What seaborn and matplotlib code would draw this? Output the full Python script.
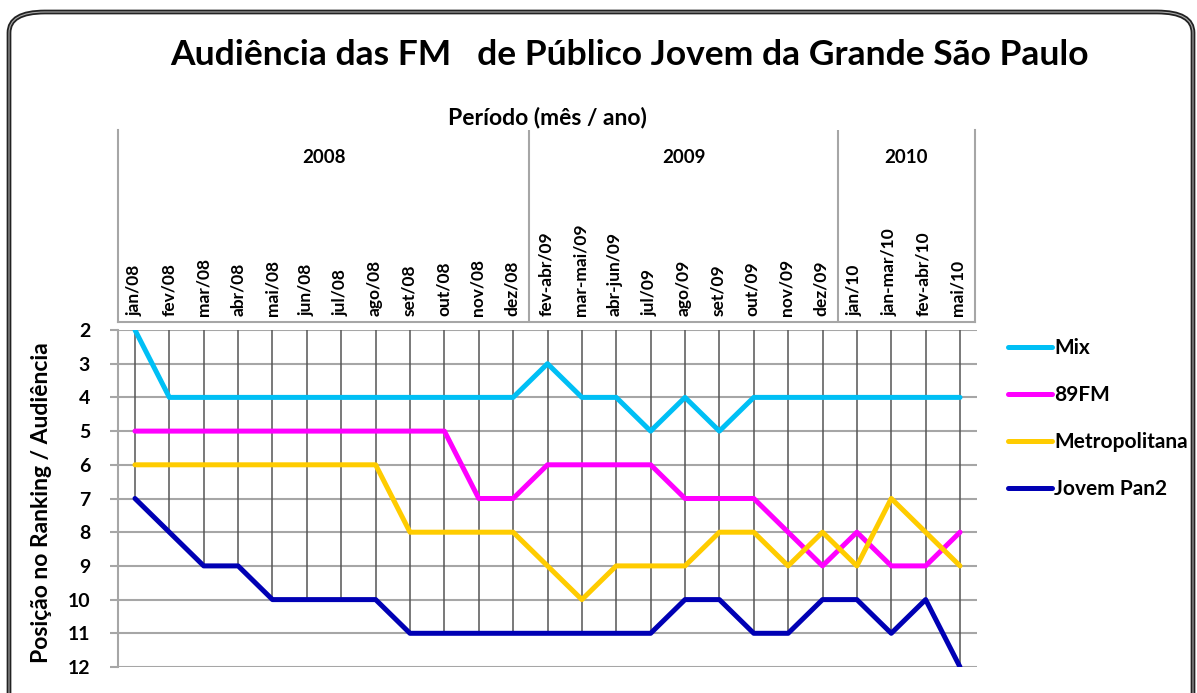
import pandas as pd
import seaborn as sns
import matplotlib.pyplot as plt
from matplotlib.patches import FancyBboxPatch

# Periods (category axis) and year groups
periods = ['jan/08', 'fev/08', 'mar/08', 'abr/08', 'mai/08', 'jun/08', 'jul/08',
           'ago/08', 'set/08', 'out/08', 'nov/08', 'dez/08',
           'fev-abr/09', 'mar-mai/09', 'abr-jun/09', 'jul/09', 'ago/09', 'set/09',
           'out/09', 'nov/09', 'dez/09',
           'jan/10', 'jan-mar/10', 'fev-abr/10', 'mai/10']
years = ['2008', '2009', '2010']
year_sizes = [12, 9, 4]

# Ranking positions per station
mix = [2, 4, 4, 4, 4, 4, 4, 4, 4, 4, 4, 4, 3, 4, 4, 5, 4, 5, 4, 4, 4, 4, 4, 4, 4]
fm89 = [5, 5, 5, 5, 5, 5, 5, 5, 5, 5, 7, 7, 6, 6, 6, 6, 7, 7, 7, 8, 9, 8, 9, 9, 8]
metropolitana = [6, 6, 6, 6, 6, 6, 6, 6, 8, 8, 8, 8, 9, 10, 9, 9, 9, 8, 8, 9, 8, 9, 7, 8, 9]
jovem_pan2 = [7, 8, 9, 9, 10, 10, 10, 10, 11, 11, 11, 11, 11, 11, 11, 11, 10, 10, 11, 11, 10, 10, 11, 10, 12]

stations = ['Mix', '89FM', 'Metropolitana', 'Jovem Pan2']
colors = ['#00bff5', '#ff00ff', '#ffcc00', '#0000b4']
series = [mix, fm89, metropolitana, jovem_pan2]

rows = []
for name, vals in zip(stations, series):
    for i, v in enumerate(vals):
        rows.append({'idx': i, 'Estação': name, 'Posição': v})
df = pd.DataFrame(rows)

sns.set_theme(style='white')
plt.rcParams['font.family'] = ['Lato', 'DejaVu Sans']
plt.rcParams['font.weight'] = 'bold'
plt.rcParams['text.color'] = 'black'

W, H = 1197, 693
fig = plt.figure(figsize=(W / 100, H / 100), dpi=100)

# rounded double border around the chart
outer = FancyBboxPatch((9 / W, -0.05), 1184 / W, 1 - 12 / H + 0.05,
                       boxstyle='round,pad=0,rounding_size=0.03',
                       transform=fig.transFigure, fill=False, ec='#222222', lw=3.4, zorder=0)
inner = FancyBboxPatch((9 / W, -0.05), 1184 / W, 1 - 12 / H + 0.05,
                       boxstyle='round,pad=0,rounding_size=0.03',
                       transform=fig.transFigure, fill=False, ec='#aaaaaa', lw=0.8, zorder=0)
fig.patches.extend([outer, inner])

x0, x1 = 117.8, 977.2
ax = fig.add_axes([x0 / W, 1 - 667 / H, (x1 - x0) / W, 337 / H])
axh = fig.add_axes([x0 / W, 1 - 322 / H, (975 - x0) / W, 192 / H])

n = len(periods)
# drop lines from the category axis (top) down to the lowest point
low = [max(vals) for vals in zip(*series)]
ax.vlines(range(n), 2, low, color='#555555', lw=1.1, zorder=1)

sns.lineplot(data=df, x='idx', y='Posição', hue='Estação', hue_order=stations,
             palette=colors, lw=3.6, sort=False, ax=ax, zorder=3)

ax.set_xlim(-0.5, n - 0.5)
ax.set_ylim(12, 2)
ax.set_yticks(range(2, 13))
ax.set_xticks([])
ax.grid(axis='y', color='#a6a6a6', lw=1.5)
ax.set_axisbelow(True)
for s in ['top', 'right', 'bottom']:
    ax.spines[s].set_visible(False)
ax.spines['left'].set_color('#a6a6a6')
ax.spines['left'].set_linewidth(1.5)
ax.tick_params(axis='y', left=True, length=6, width=1.5, color='#a6a6a6', pad=14,
               labelsize=14, labelcolor='black')
for t in ax.get_yticklabels():
    t.set_fontweight('bold')
ax.set_xlabel('')
ax.set_ylabel('')

ax.legend(loc='upper left', bbox_to_anchor=(1008 / W, 1 - 338 / H), bbox_transform=fig.transFigure,
          frameon=False, borderpad=0, borderaxespad=0, handlelength=2.1, handletextpad=0.12,
          labelspacing=1.3, prop={'weight': 'bold', 'size': 15})

# header with category labels and year groups
axh.set_xlim(-0.5, n - 0.5)
axh.set_ylim(0, 1)
axh.set_xticks([])
axh.set_yticks([])
axh.spines['top'].set_visible(False)
for s in ['left', 'right', 'bottom']:
    axh.spines[s].set_color('#a6a6a6')
    axh.spines[s].set_linewidth(1.5)
start = 0
for yr, size in zip(years, year_sizes):
    axh.text(start + (size - 1) / 2, 0.855, yr, ha='center', va='center',
             fontsize=13.5, fontweight='bold')
    if start > 0:
        axh.axvline(start - 0.5, color='#a6a6a6', lw=1.5)
    start += size
for i, lab in enumerate(periods):
    axh.text(i, 0.03, lab, rotation=90, ha='center', va='bottom', fontsize=12.5, fontweight='bold')

fig.text(629 / W, 1 - 55 / H, 'Audiência das FM   de Público Jovem da Grande São Paulo',
         ha='center', va='center', fontsize=25.5, fontweight='bold')
fig.text(547 / W, 1 - 117 / H, 'Período (mês / ano)', ha='center', va='center',
         fontsize=16.5, fontweight='bold')
fig.text(42 / W, 1 - 503 / H, 'Posição no Ranking / Audiência', rotation=90,
         ha='center', va='center', fontsize=16.5, fontweight='bold')

plt.savefig('out.png', dpi=100)
